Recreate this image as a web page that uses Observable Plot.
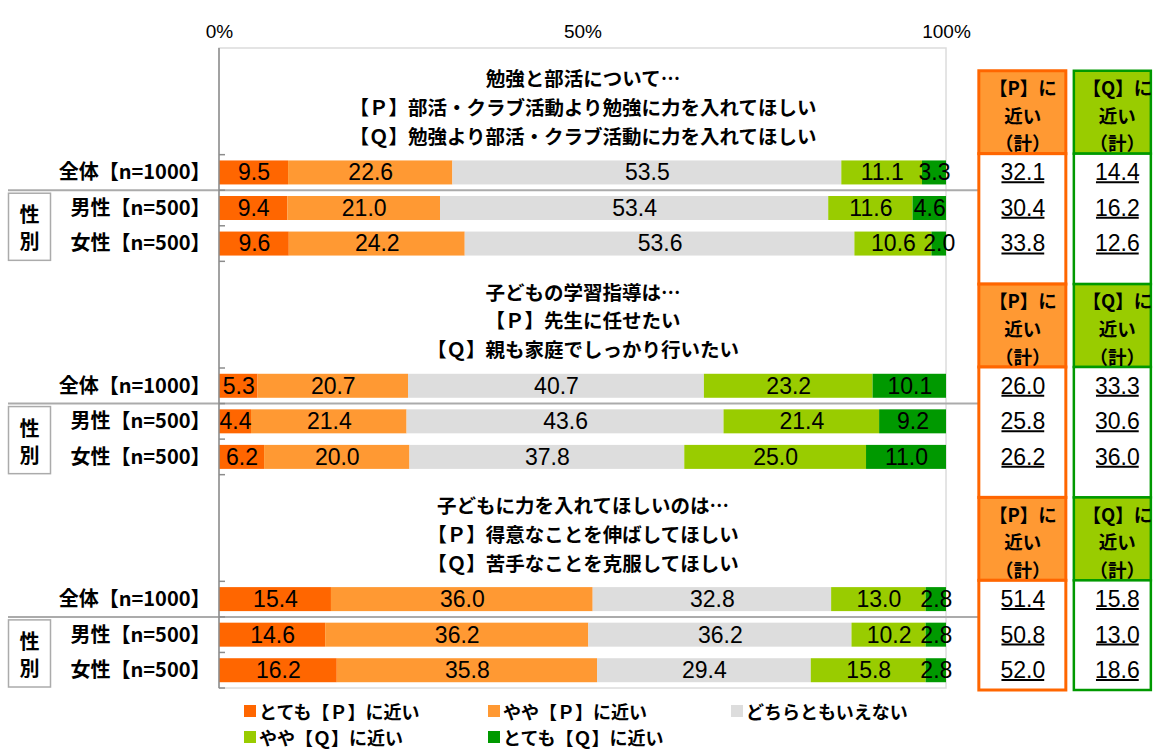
<!DOCTYPE html>
<html><head><meta charset="utf-8">
<script src="https://cdn.jsdelivr.net/npm/d3@7"></script>
<script src="https://cdn.jsdelivr.net/npm/@observablehq/plot@0.6"></script>
<style>
body{margin:0;background:#fff;font-family:"Noto Sans CJK JP",sans-serif;}
#chart svg{display:block;}
#legend{position:relative;height:53px;width:1153px;overflow:hidden;}
.li{position:absolute;display:flex;align-items:center;font-weight:700;font-size:18px;line-height:22px;white-space:nowrap;transform:translateY(-50%);color:#000;}
.sw{width:12px;height:12px;margin-right:3px;flex:none;}
</style></head><body>
<div id="chart"></div>
<div id="legend"></div>
<script>
// ---- data ----
const groupKeys = ["g1", "g2", "g3"];
const groupTitles = [
  "勉強と部活について…\n【Ｐ】部活・クラブ活動より勉強に力を入れてほしい\n【Ｑ】勉強より部活・クラブ活動に力を入れてほしい",
  "子どもの学習指導は…\n【Ｐ】先生に任せたい\n【Ｑ】親も家庭でしっかり行いたい",
  "子どもに力を入れてほしいのは…\n【Ｐ】得意なことを伸ばしてほしい\n【Ｑ】苦手なことを克服してほしい"
];
const rowLabels = ["全体【n=1000】", "男性【n=500】", "女性【n=500】"];
const categories = ["とても【Ｐ】に近い", "やや【Ｐ】に近い", "どちらともいえない", "やや【Ｑ】に近い", "とても【Ｑ】に近い"];
const colors = ["#FF6600", "#FF9933", "#DDDDDD", "#99CC00", "#009900"];
const g1Values = [[9.5, 22.6, 53.5, 11.1, 3.3], [9.4, 21.0, 53.4, 11.6, 4.6], [9.6, 24.2, 53.6, 10.6, 2.0]];
const g2Values = [[5.3, 20.7, 40.7, 23.2, 10.1], [4.4, 21.4, 43.6, 21.4, 9.2], [6.2, 20.0, 37.8, 25.0, 11.0]];
const g3Values = [[15.4, 36.0, 32.8, 13.0, 2.8], [14.6, 36.2, 36.2, 10.2, 2.8], [16.2, 35.8, 29.4, 15.8, 2.8]];
const pTotals = [[32.1, 30.4, 33.8], [26.0, 25.8, 26.2], [51.4, 50.8, 52.0]];
const qTotals = [[14.4, 16.2, 12.6], [33.3, 30.6, 36.0], [15.8, 13.0, 18.6]];
const xTicks = [0, 50, 100];
const pHeader = "【P】に\n近い\n（計）";
const qHeader = "【Q】に\n近い\n（計）";
const sideTitle = ["性", "別"];

// ---- layout constants ----
const W = 1153, H = 697, mT = 48, mB = 9, mL = 219, mR = 207;
const colP = 110.5, colQ = 123.5; // side column centers in x units

// ---- build tables ----
const groupValues = [g1Values, g2Values, g3Values];
const slots = [];
groupKeys.forEach(g => {
  for (let i = 0; i < 3; i++) slots.push(`${g}-t${i}`);
  for (let i = 0; i < 3; i++) slots.push(`${g}-r${i}`);
});
const rows = [];
groupValues.forEach((vals, gi) => vals.forEach((arr, ri) => arr.forEach((v, ci) =>
  rows.push({slot: `${groupKeys[gi]}-r${ri}`, cat: categories[ci], value: v}))));
const labelRows = [], totalRows = [];
groupKeys.forEach((g, gi) => rowLabels.forEach((l, ri) => {
  labelRows.push({slot: `${g}-r${ri}`, label: l});
  totalRows.push({slot: `${g}-r${ri}`, p: pTotals[gi][ri], q: qTotals[gi][ri]});
}));
const titleRows = groupKeys.map((g, i) => ({slot: `${g}-t1`, text: groupTitles[i]}));

const numFont = "'Liberation Sans', Arial, sans-serif";
const jpFont = "'Noto Sans CJK JP', sans-serif";

const chart = Plot.plot({
  width: W, height: H,
  marginTop: mT, marginBottom: mB, marginLeft: mL, marginRight: mR,
  x: {domain: [0, 100], axis: null},
  y: {domain: slots, axis: null, paddingInner: 0.325, paddingOuter: 0.1625, round: false},
  color: {domain: categories, range: colors},
  style: {fontFamily: jpFont, background: "#fff", overflow: "visible"},
  marks: [
    Plot.barX(rows, {x: "value", y: "slot", fill: "cat"}),
    Plot.text(rows, Plot.stackX({x: "value", y: "slot", z: "cat", text: d => d.value.toFixed(1),
      fontFamily: numFont, fontSize: 23, fill: "#000"})),
    Plot.text(xTicks, {x: d => d, frameAnchor: "top", dy: -24, text: d => d + "%",
      fontFamily: numFont, fontSize: 19, fill: "#000"}),
    Plot.text(labelRows, {y: "slot", text: "label", frameAnchor: "left", dx: -9, textAnchor: "end",
      fontSize: 20, fontWeight: "bold", fill: "#000"}),
    Plot.text(titleRows, {y: "slot", text: "text", frameAnchor: "middle", dy: 4, lineHeight: 1.48,
      fontSize: 19.5, fontWeight: "bold", fill: "#000"}),
    Plot.text(titleRows, {x: () => colP, y: "slot", text: () => pHeader, dy: 12, lineHeight: 1.5,
      fontSize: 18.5, fontWeight: "bold", fill: "#000"}),
    Plot.text(titleRows, {x: () => colQ, y: "slot", text: () => qHeader, dy: 12, lineHeight: 1.5,
      fontSize: 18.5, fontWeight: "bold", fill: "#000"}),
    Plot.text(totalRows, {x: () => colP, y: "slot", text: d => d.p.toFixed(1),
      fontFamily: numFont, fontSize: 23, fill: "#000"}),
    Plot.text(totalRows, {x: () => colQ, y: "slot", text: d => d.q.toFixed(1),
      fontFamily: numFont, fontSize: 23, fill: "#000"})
  ]
});
document.getElementById("chart").appendChild(chart);

// ---- decorations using the plot's scales ----
const markGroups = Array.from(chart.children).filter(n => n.tagName.toLowerCase() === "g");
const totalGroups = markGroups.slice(-2);
const xs = chart.scale("x");
const X = v => xs.apply ? xs.apply(v) : mL + v / 100 * (W - mL - mR);
const step = (H - mT - mB) / slots.length;
const B = i => mT + step * i; // slot boundary
const svg = d3.select(chart);

const under = svg.insert("g", ":first-child");
const over = svg.append("g");

// underline totals
const svgRect = chart.getBoundingClientRect();
totalGroups.forEach(g => g.querySelectorAll("text").forEach(t => {
  const r = t.getBoundingClientRect();
  const y = r.bottom - svgRect.top - 3;
  over.append("line").attr("x1", r.left - svgRect.left + 1).attr("x2", r.right - svgRect.left - 1)
    .attr("y1", y).attr("y2", y).attr("stroke", "#000").attr("stroke-width", 2);
}));

// plot frame (light)
under.append("rect").attr("x", X(0)).attr("y", mT).attr("width", X(100) - X(0)).attr("height", H - mT - mB)
  .attr("fill", "none").attr("stroke", "#dcdcdc").attr("stroke-width", 1.5);
// left axis
over.append("line").attr("x1", X(0)).attr("x2", X(0)).attr("y1", mT).attr("y2", H - mB)
  .attr("stroke", "#8c8c8c").attr("stroke-width", 1.5);

const pBoxX1 = X(colP) - 43.5, pBoxX2 = X(colP) + 43.5;
const qBoxX1 = X(colQ) - 43, qBoxX2 = X(colQ) + 34;
groupKeys.forEach((g, gi) => {
  const s0 = gi * 6;
  for (let k = 3; k <= 6; k++) {
    over.append("line").attr("x1", X(0)).attr("x2", X(0) + 6).attr("y1", B(s0 + k)).attr("y2", B(s0 + k))
      .attr("stroke", "#8c8c8c").attr("stroke-width", 1.5);
  }
  // separator under 全体
  under.append("line").attr("x1", 8).attr("x2", pBoxX1).attr("y1", B(s0 + 4)).attr("y2", B(s0 + 4))
    .attr("stroke", "#ababab").attr("stroke-width", 2);
  // 性別 box
  const by1 = B(s0 + 4) + 3, by2 = B(s0 + 6) - 1;
  under.append("rect").attr("x", 8.5).attr("y", by1).attr("width", 42).attr("height", by2 - by1)
    .attr("fill", "#fff").attr("stroke", "#ababab").attr("stroke-width", 1.5);
  const cy = (by1 + by2) / 2;
  sideTitle.forEach((t, i) => over.append("text").attr("x", 29.5).attr("y", cy + (i === 0 ? -13 : 14))
    .attr("text-anchor", "middle").attr("dominant-baseline", "central")
    .attr("font-size", 20).attr("font-weight", "bold").attr("font-family", jpFont).text(t));
  // side columns
  const hTop = B(s0) + 0.64 * step;
  const hBot = B(s0 + 3) - 1;
  const bodyBot = gi < 2 ? B(s0 + 6) + 0.64 * step : H - mB + 2;
  [[pBoxX1, pBoxX2, "#FF9933", "#FF6600", 3], [qBoxX1, qBoxX2, "#99CC00", "#009900", 2.5]].forEach(([a, b, fill, stroke, sw]) => {
    under.append("rect").attr("x", a).attr("y", hTop).attr("width", b - a).attr("height", hBot - hTop)
      .attr("fill", fill).attr("stroke", stroke).attr("stroke-width", sw);
    under.append("rect").attr("x", a).attr("y", hBot).attr("width", b - a).attr("height", bodyBot - hBot)
      .attr("fill", "#fff").attr("stroke", stroke).attr("stroke-width", sw);
  });
});

// ---- legend ----
const legendPos = [[244, 14], [488, 14], [731, 14], [244, 40], [488, 40]];
const legend = d3.select("#legend");
categories.forEach((c, i) => {
  const item = legend.append("div").attr("class", "li")
    .style("left", legendPos[i][0] + "px").style("top", legendPos[i][1] + "px");
  item.append("div").attr("class", "sw").style("background", colors[i]);
  item.append("span").text(c);
});
</script>
</body></html>
